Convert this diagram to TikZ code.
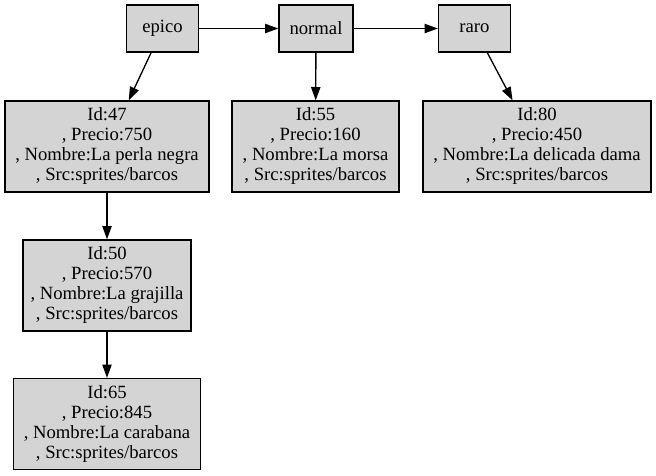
\documentclass[tikz,border=0pt]{standalone}
\usepackage{fontspec}
\setmainfont{Liberation Serif}
\newfontfamily\grafofont{Liberation Serif}
\usetikzlibrary{arrows.meta}

\begin{document}
\begin{tikzpicture}[x=0.75pt, y=-0.75pt,
    >={Triangle[length=10pt, width=7pt]},
    tipo/.style={draw, fill=black!17, line width=1pt, inner sep=0pt,
      minimum width=54pt, minimum height=35.25pt,
      font=\grafofont\fontsize{14}{15}\selectfont},
    barco/.style={draw, fill=black!17, line width=1pt, inner sep=0pt,
      minimum height=68.25pt, align=center,
      font=\grafofont\fontsize{14}{15}\selectfont},
    flecha/.style={->, line width=1pt}]
  \useasboundingbox (0,0) rectangle (656,475);

  % Rareza
  \node[tipo] (epico) at (162.5, 28.5) {epico};
  \node[tipo, minimum width=55.5pt] (normal) at (316, 28.5) {normal};
  \node[tipo] (raro) at (474.5, 28.5) {raro};

  % Barcos
  \node[barco, minimum width=153pt] (id47) at (107, 146.5)
    {Id:47\\, Precio:750\\, Nombre:La perla negra\\, Src:sprites/barcos};
  \node[barco, minimum width=125.25pt] (id55) at (315.5, 146.5)
    {Id:55\\, Precio:160\\, Nombre:La morsa\\, Src:sprites/barcos};
  \node[barco, minimum width=171pt] (id80) at (537, 146.5)
    {Id:80\\, Precio:450\\, Nombre:La delicada dama\\, Src:sprites/barcos};
  \node[barco, minimum width=126pt] (id50) at (107, 285.5)
    {Id:50\\, Precio:570\\, Nombre:La grajilla\\, Src:sprites/barcos};
  \node[barco, minimum width=140.25pt] (id65) at (107, 424)
    {Id:65\\, Precio:845\\, Nombre:La carabana\\, Src:sprites/barcos};

  % Enlaces
  \draw[flecha] (epico) -- (normal);
  \draw[flecha] (normal) -- (raro);
  \draw[flecha] (epico) -- (id47);
  \draw[flecha] (normal) -- (id55);
  \draw[flecha] (raro) -- (id80);
  \draw[flecha] (id47) -- (id50);
  \draw[flecha] (id50) -- (id65);
\end{tikzpicture}
\end{document}
